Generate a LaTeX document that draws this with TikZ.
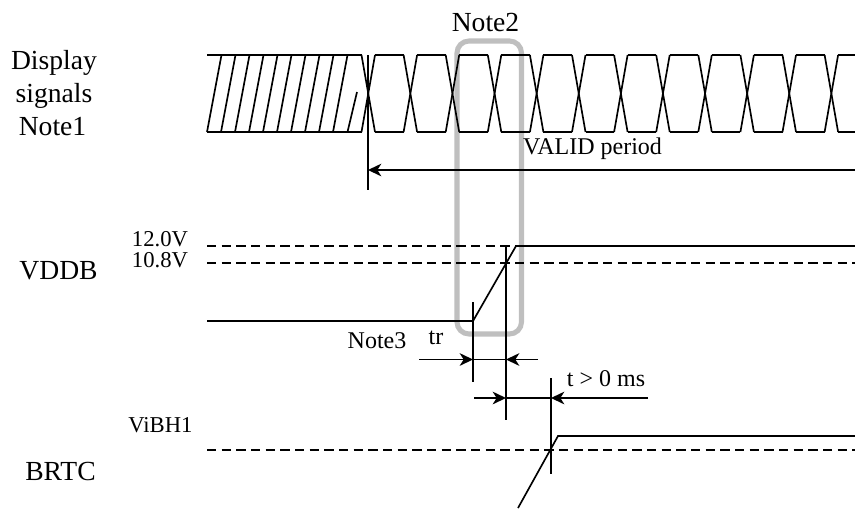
\documentclass[tikz,border=0pt]{standalone}
\usepackage{fontspec}
\setmainfont{Liberation Serif}
\usetikzlibrary{arrows.meta}
\tikzset{
  sig/.style={line width=1.25pt,line cap=butt,line join=miter},
  thr/.style={line width=1.15pt,dash pattern=on 7pt off 4pt},
  mark line/.style={line width=1.15pt},
  dim/.style={line width=1.15pt,-{Stealth[length=10pt,width=9.5pt,inset=3pt]}},
  big/.style={inner sep=0pt,anchor=base,font=\fontsize{20.7pt}{20.7pt}\selectfont},
  small/.style={inner sep=0pt,anchor=base,font=\fontsize{18pt}{18pt}\selectfont},
  tiny/.style={inner sep=0pt,anchor=base,font=\fontsize{17pt}{17pt}\selectfont},
  win/.style={draw=black!25,line width=3.8pt,rounded corners=9pt}
}
\begin{document}
\begin{tikzpicture}[x=0.75pt,y=-0.75pt]
\useasboundingbox (0,0) rectangle (855,508);
% highlight window
\draw[win] (457,41) rectangle (521.5,334);
% display signals
\draw[sig] (207,55) -- (362,55);
\draw[sig] (207,132) -- (362,132);
\foreach \k in {0,...,9}{
  \draw[sig] ({207+14*\k},132) -- ({221.5+14*\k},55);
}
\draw[sig] (347.5,132) -- (357,92);
\foreach \k in {0,...,11}{
  \pgfmathsetmacro{\c}{368+42.1*\k}
  \draw[sig] ({\c-6.5},55) -- ({\c+7},132);
  \draw[sig] ({\c-6.5},132) -- ({\c+7},55);
}
\foreach \k in {0,...,10}{
  \pgfmathsetmacro{\c}{368+42.1*\k}
  \draw[sig] ({\c+7},55) -- ({\c+35.6},55);
  \draw[sig] ({\c+7},132) -- ({\c+35.6},132);
}
\draw[sig] (838,55) -- (855,55);
\draw[sig] (838,132) -- (855,132);
% named points
\coordinate (validTop) at (368,55);
\coordinate (validBot) at (368,190);
\coordinate (validEnd) at (855,170);
\coordinate (validTip) at (368,170);
\coordinate (lowL) at (207,321);
\coordinate (rampS) at (473,321);
\coordinate (rampE) at (516,246);
\coordinate (highR) at (855,246);
\coordinate (trA) at (473,302);
\coordinate (trB) at (473,382);
\coordinate (trC) at (506,246);
\coordinate (trD) at (506,420);
\coordinate (tA) at (551,378);
\coordinate (tB) at (551,474);
\coordinate (brS) at (518,508);
\coordinate (brE) at (558,436);
\coordinate (brR) at (855,436);
\draw[mark line] (validTop) -- (validBot);
\draw[dim] (validEnd) -- (validTip);
% VDDB
\draw[thr] (207,246) -- (rampE);
\draw[thr] (207,263) -- (855,263);
\draw[sig] (lowL) -- (rampS) -- (rampE) -- (highR);
\draw[mark line] (trA) -- (trB);
\draw[mark line] (trC) -- (trD);
\draw[mark line] (473,359.5) -- (506,359.5);
\draw[dim] (419,359.5) -- (473,359.5);
\draw[dim] (538,359.5) -- (506,359.5);
\draw[mark line] (506,398) -- (551,398);
\draw[dim] (474,398) -- (506,398);
\draw[dim] (648,398) -- (551,398);
\draw[mark line] (tA) -- (tB);
% BRTC
\draw[thr] (207,450) -- (855,450);
\draw[sig] (brS) -- (brE) -- (brR);
% labels
\node[big] (l1) at (54,69) {Display};
\node[big] (l2) at (54,102) {signals};
\node[big] (l3) at (52.5,135) {Note1};
\node[big] (n2) at (485.5,31) {Note2};
\node[small] (v) at (592.5,154) {VALID period};
\node[tiny] (v12) at (160,246) {12.0V};
\node[tiny] (v10) at (160,267.5) {10.8V};
\node[big] (vd) at (58.5,279.5) {VDDB};
\node[small] (n3) at (377,348) {Note3};
\node[small] (tr) at (436,344) {tr};
\node[small] (t0) at (606,386) {t > 0 ms};
\node[tiny] (vi) at (160.5,432) {ViBH1};
\node[big] (br) at (60.5,480) {BRTC};
\end{tikzpicture}
\end{document}
